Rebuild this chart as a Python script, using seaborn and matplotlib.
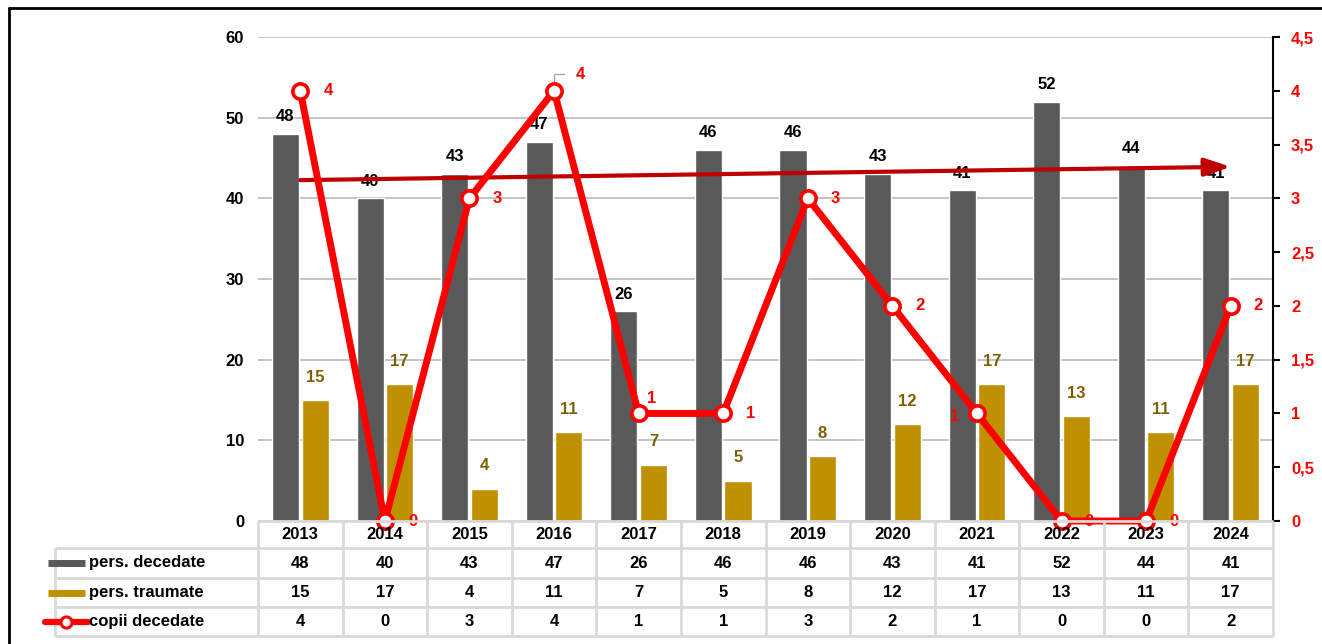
import numpy as np
import pandas as pd
import matplotlib
matplotlib.use("Agg")
import matplotlib.pyplot as plt
import matplotlib.transforms as mtransforms
from matplotlib.lines import Line2D
import seaborn as sns

# ---------------- data ----------------
years = ["2013", "2014", "2015", "2016", "2017", "2018",
         "2019", "2020", "2021", "2022", "2023", "2024"]
decedate = [48, 40, 43, 47, 26, 46, 46, 43, 41, 52, 44, 41]
traumate = [15, 17, 4, 11, 7, 5, 8, 12, 17, 13, 11, 17]
copii = [4, 0, 3, 4, 1, 1, 3, 2, 1, 0, 0, 2]
series_names = ["pers. decedate", "pers. traumate", "copii decedate"]
left_ticks = [0, 10, 20, 30, 40, 50, 60]
right_ticks = [0, 0.5, 1, 1.5, 2, 2.5, 3, 3.5, 4, 4.5]

# ---------------- style ----------------
GRAY = "#595959"
GOLD = "#BF9000"
GOLD_TXT = "#7F6000"
RED = "#FF0000"
TREND = "#C00000"
GRID = "#BFBFBF"
TBL = "#D9D9D9"

sns.set_theme(style="white")
plt.rcParams["font.family"] = ["Liberation Sans", "DejaVu Sans"]
plt.rcParams["font.weight"] = "bold"
FS = 12

W, H = 1322, 644
fig = plt.figure(figsize=(W / 100, H / 100), dpi=100)
ax = fig.add_axes([258 / W, 1 - 521 / H, (1273 - 258) / W, (521 - 37) / H])
ax.patch.set_alpha(0)

df = pd.DataFrame({
    "year": years * 2,
    "value": decedate + traumate,
    "serie": [series_names[0]] * len(years) + [series_names[1]] * len(years),
})
sns.barplot(data=df, x="year", y="value", hue="serie", palette=[GRAY, GOLD],
            width=0.7, gap=0.085, saturation=1, ax=ax, legend=False,
            edgecolor="white", linewidth=1.0, zorder=2)

ax.set_xlim(-0.5, len(years) - 0.5)
ax.set_ylim(0, 60)
ax.set_yticks(left_ticks)
ax.set_yticklabels([str(t) for t in left_ticks], fontsize=FS, fontweight="bold", color="black")
ax.tick_params(axis="y", length=0, pad=10)
ax.set_xticks([])
ax.set_xlabel("")
ax.set_ylabel("")
ax.grid(axis="y", color=GRID, lw=1.3)
ax.set_axisbelow(True)
for s in ax.spines.values():
    s.set_visible(False)

# bar labels
ax.bar_label(ax.containers[0], padding=7, fontsize=FS, fontweight="bold", color="black")
ax.bar_label(ax.containers[1], padding=11, fontsize=FS, fontweight="bold", color=GOLD_TXT)

# trend line of pers. decedate
xs = np.arange(len(years))
slope, icpt = np.polyfit(xs, decedate, 1)
ax.annotate("", xy=(xs[-1], slope * xs[-1] + icpt), xytext=(xs[0], icpt),
            arrowprops=dict(arrowstyle="-|>,head_length=1.3,head_width=0.45",
                            lw=3, color=TREND, shrinkA=0, shrinkB=0),
            zorder=4)

# secondary axis line
ax2 = ax.twinx()
ax2.set_position(ax.get_position())
sns.lineplot(x=xs, y=copii, ax=ax2, color=RED, lw=5, marker="o", markersize=11,
             markerfacecolor="white", markeredgecolor=RED, markeredgewidth=2.6,
             clip_on=False, zorder=5)
ax2.set_ylim(0, 4.5)
ax2.set_yticks(right_ticks)
ax2.set_yticklabels([("%g" % t).replace(".", ",") for t in right_ticks],
                    fontsize=FS, fontweight="bold", color=RED)
ax2.tick_params(axis="y", right=True, length=5, width=1.5, color="black", pad=8,
                direction="out")
ax2.set_ylabel("")
for k, s in ax2.spines.items():
    s.set_visible(k == "right")
ax2.spines["right"].set_color("black")
ax2.spines["right"].set_linewidth(1.5)
ax2.grid(False)

for i, v in enumerate(copii):
    common = dict(textcoords="offset points", ha="center", va="center", fontsize=FS,
                  fontweight="bold", color=RED, annotation_clip=False)
    if i == 3:
        ax2.annotate(str(v), xy=(i, v), xytext=(19, 12),
                     arrowprops=dict(arrowstyle="-", color="#A6A6A6", lw=1,
                                     shrinkA=6, shrinkB=6,
                                     connectionstyle="angle,angleA=0,angleB=90,rad=0"),
                     **common)
    elif i == 4:
        ax2.annotate(str(v), xy=(i, v), xytext=(9, 11), **common)
    elif i == 8:
        ax2.annotate(str(v), xy=(i, v), xytext=(-16, -2), **common)
    else:
        ax2.annotate(str(v), xy=(i, v), xytext=(20, 0), **common)

# ---------------- data table ----------------
blend = mtransforms.blended_transform_factory(ax.transData, fig.transFigure)
fy = lambda py: 1 - py / H
fx = lambda px: px / W
n = len(years)
rows_y = [521, 548, 578, 607, 636]
lkw = dict(color=TBL, lw=2, solid_capstyle="butt")
# horizontal lines
fig.add_artist(Line2D([-0.5, n - 0.5], [fy(521)] * 2, transform=blend, **lkw))
for py in rows_y[1:]:
    fig.add_artist(Line2D([-0.5, n - 0.5], [fy(py)] * 2, transform=blend, **lkw))
    fig.add_artist(Line2D([fx(55), fx(258)], [fy(py)] * 2, transform=fig.transFigure, **lkw))
# vertical lines
for b in np.arange(n + 1) - 0.5:
    fig.add_artist(Line2D([b, b], [fy(521), fy(636)], transform=blend, **lkw))
fig.add_artist(Line2D([fx(55), fx(55)], [fy(548), fy(636)], transform=fig.transFigure, **lkw))

centers = [(rows_y[k] + rows_y[k + 1]) / 2 for k in range(4)]
for i, yv in enumerate(years):
    fig.text(i, fy(centers[0]), yv, transform=blend, ha="center", va="center",
             fontsize=FS, fontweight="bold", color="black")
for r, vals in enumerate([decedate, traumate, copii]):
    for i, v in enumerate(vals):
        fig.text(i, fy(centers[r + 1]), str(v), transform=blend, ha="center", va="center",
                 fontsize=FS, fontweight="bold", color="black")
    fig.text(fx(89), fy(centers[r + 1]), series_names[r], ha="left", va="center",
             fontsize=FS, fontweight="bold", color="black")

# legend keys
fig.add_artist(Line2D([fx(48), fx(85)], [fy(centers[1])] * 2, color=GRAY, lw=5,
                      solid_capstyle="butt", transform=fig.transFigure))
fig.add_artist(Line2D([fx(48), fx(85)], [fy(centers[2])] * 2, color=GOLD, lw=5,
                      solid_capstyle="butt", transform=fig.transFigure))
fig.add_artist(Line2D([fx(45), fx(88)], [fy(centers[3])] * 2, color=RED, lw=4.5,
                      solid_capstyle="round", transform=fig.transFigure))
fig.add_artist(Line2D([fx(66)], [fy(centers[3])], color=RED, marker="o", markersize=8,
                      markerfacecolor="white", markeredgecolor=RED, markeredgewidth=2.2,
                      transform=fig.transFigure))

# outer frame (top & left)
fig.add_artist(Line2D([fx(9), 1], [fy(8), fy(8)], color="black", lw=2,
                      transform=fig.transFigure))
fig.add_artist(Line2D([fx(9), fx(9)], [fy(8), 0], color="black", lw=2,
                      transform=fig.transFigure))

fig.savefig("out.png", dpi=100)
